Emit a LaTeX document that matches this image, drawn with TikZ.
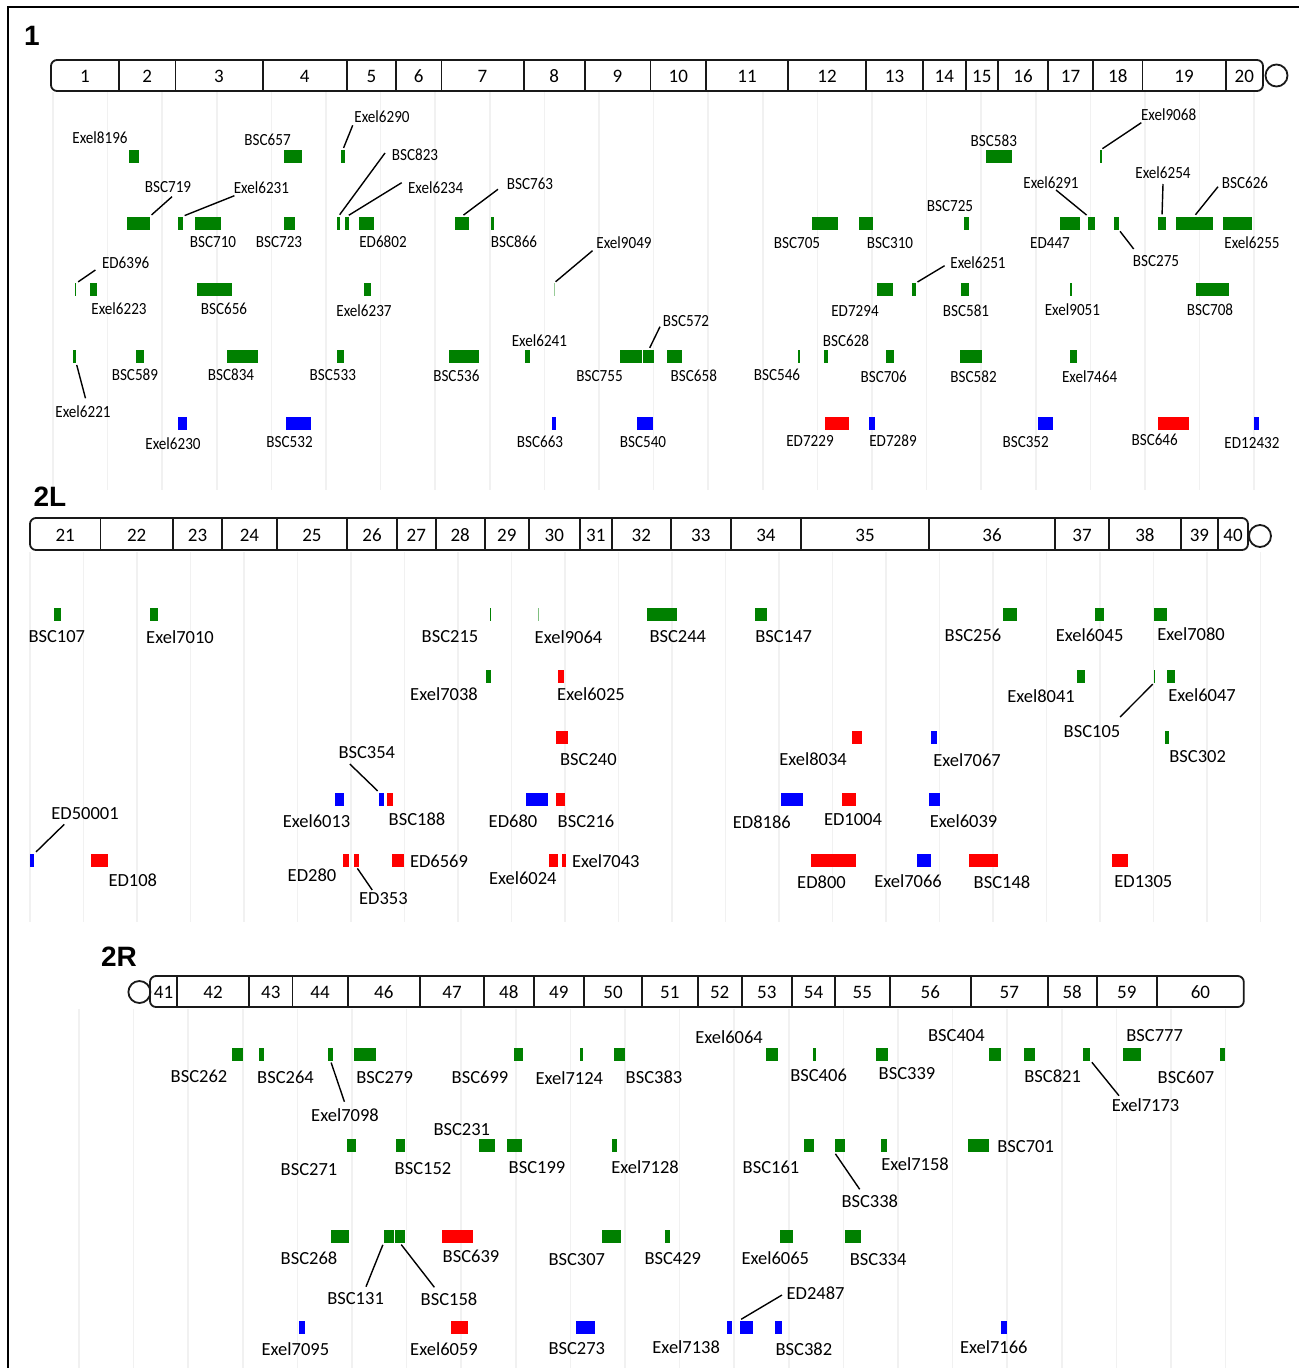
\documentclass[tikz,border=0pt]{standalone}
\usepackage{fontspec}
\setmainfont{Carlito}
\newfontfamily\narrowfont[FakeStretch=0.89]{Carlito}
\newfontfamily\titlefont{Liberation Sans}
\definecolor{blkgreen}{RGB}{0,128,0}
\definecolor{blkred}{RGB}{255,0,0}
\definecolor{blkblue}{RGB}{0,0,255}
\definecolor{gridgray}{RGB}{241,241,241}

\tikzset{
  blk/.style={rectangle, draw=none, inner sep=0pt, minimum height=13},
  lab/.style={inner sep=0pt, font=\labfont},
  num/.style={inner sep=0pt, font=\fontsize{19}{22}\selectfont},
  bar/.style={line width=1.8pt, draw=black!90},
  cen/.style={circle, draw=black!90, line width=1.8pt, minimum size=22, inner sep=0pt},
  grid line/.style={gridgray, line width=1.6pt},
  lead/.style={line width=1.4pt, shorten >=2pt},
  chrom/.style={font=\titlefont\bfseries\fontsize{28}{32}\selectfont, inner sep=0pt},
}

\newcommand{\labfont}{\narrowfont\fontsize{17}{20}\selectfont}
\newcommand{\delblock}[5]{\node[blk, fill=#2, minimum width={#4-#3}] (#1) at ({(#3+#4)/2},#5) {};}
\newcommand{\dellabel}[3]{\node[lab] (#1t) at (#2,#3) {#1};}
\newcommand{\delcallout}[3]{\coordinate (#1c) at (#2); \path[lead] (#1c) edge (#1.#3);}

\begin{document}
\begin{tikzpicture}[x=1pt, y=-1pt]
  \useasboundingbox (0,0) rectangle (1299,1368);
  \draw[line width=2pt] (8,1368) -- (8,7) -- (1299,7);

  % grid lines
  \foreach \k in {0,...,22} \draw[grid line] ({53+54.6*\k},92) -- ({53+54.6*\k},490);
  \foreach \k in {0,...,23} \draw[grid line] ({30+53.5*\k},552) -- ({30+53.5*\k},922);
  \foreach \k in {0,...,21} \draw[grid line] ({79+54.6*\k},1009) -- ({79+54.6*\k},1368);

  % ---------- chromosome 1 ----------
  \node[chrom] (chr1) at (32,35.5) {1};
  \draw[bar, rounded corners=6] (51,60) rectangle (1263,91);
  \foreach \x in {119, 175.5, 262.6, 347, 396, 441.5, 523.6, 584.6, 650.5, 706, 788, 866,
      923, 965.6, 998, 1048, 1093, 1142.5, 1225.7}
    \draw[bar] (\x,60) -- (\x,91);
  \foreach \a/\b/\n in {51/119/1, 119/175.5/2, 175.5/262.6/3, 262.6/347/4, 347/396/5,
      396/441.5/6, 441.5/523.6/7, 523.6/584.6/8, 584.6/650.5/9, 650.5/706/10, 706/788/11,
      788/866/12, 866/923/13, 923/965.6/14, 965.6/998/15, 998/1048/16, 1048/1093/17,
      1093/1142.5/18, 1142.5/1225.7/19, 1225.7/1263/20}
    \node[num] (band\n) at ({(\a+\b)/2},76) {\n};
  \node[cen] (cen1) at (1276.5,75.5) {};

  \delblock{Exel8196}{blkgreen}{128.6}{138.6}{156.5}
  \delblock{BSC657}{blkgreen}{284}{301.7}{156.5}
  \delblock{Exel6290}{blkgreen}{341}{344.7}{156.5}
  \delblock{BSC583}{blkgreen}{985.8}{1011.8}{156.5}
  \delblock{Exel9068}{blkgreen}{1100}{1101.5}{156.5}

  \delblock{BSC719}{blkgreen}{126.6}{149.8}{223}
  \delblock{Exel6231}{blkgreen}{177.6}{182.6}{223}
  \delblock{BSC710}{blkgreen}{195}{221}{223}
  \delblock{BSC723}{blkgreen}{284}{295.4}{223}
  \delblock{BSC823}{blkgreen}{337}{340}{223}
  \delblock{Exel6234}{blkgreen}{344.8}{349.4}{223}
  \delblock{ED6802}{blkgreen}{358.5}{374.3}{223}
  \delblock{BSC763}{blkgreen}{454.8}{468.9}{223}
  \delblock{BSC866}{blkgreen}{490.5}{493.8}{223}
  \delblock{BSC705}{blkgreen}{812.3}{837.5}{223}
  \delblock{BSC310}{blkgreen}{859}{872.8}{223}
  \delblock{BSC725}{blkgreen}{963.5}{968.6}{223}
  \delblock{ED447}{blkgreen}{1059.7}{1079.5}{223}
  \delblock{Exel6291}{blkgreen}{1088.3}{1095}{223}
  \delblock{BSC275}{blkgreen}{1114}{1118.6}{223}
  \delblock{Exel6254}{blkgreen}{1158}{1166}{223}
  \delblock{BSC626}{blkgreen}{1175.7}{1212.7}{223}
  \delblock{Exel6255}{blkgreen}{1223}{1252}{223}

  \delblock{ED6396}{blkgreen}{74.7}{76.3}{289.7}
  \delblock{Exel6223}{blkgreen}{89.6}{97}{289.7}
  \delblock{BSC656}{blkgreen}{196.7}{232.4}{289.7}
  \delblock{Exel6237}{blkgreen}{363.5}{370.5}{289.7}
  \delblock{Exel9049}{blkgreen!40}{553.5}{554.7}{289.7}
  \delblock{ED7294}{blkgreen}{877.4}{892.5}{289.7}
  \delblock{Exel6251}{blkgreen}{911.8}{915.6}{289.7}
  \delblock{BSC581}{blkgreen}{961}{969}{289.7}
  \delblock{Exel9051}{blkgreen}{1070.3}{1072.4}{289.7}
  \delblock{BSC708}{blkgreen}{1195.9}{1228.7}{289.7}

  \delblock{Exel6221}{blkgreen}{73}{76}{356.3}
  \delblock{BSC589}{blkgreen}{135.7}{144.4}{356.3}
  \delblock{BSC834}{blkgreen}{227.4}{258}{356.3}
  \delblock{BSC533}{blkgreen}{336.5}{344.4}{356.3}
  \delblock{BSC536}{blkgreen}{449}{479.3}{356.3}
  \delblock{Exel6241}{blkgreen}{524.5}{530}{356.3}
  \delblock{BSC755}{blkgreen}{619.5}{641.5}{356.3}
  \delblock{BSC572}{blkgreen}{643.4}{654.3}{356.3}
  \delblock{BSC658}{blkgreen}{667}{682}{356.3}
  \delblock{BSC546}{blkgreen}{798.4}{799.7}{356.3}
  \delblock{BSC628}{blkgreen}{824}{827.8}{356.3}
  \delblock{BSC706}{blkgreen}{885.8}{894.2}{356.3}
  \delblock{BSC582}{blkgreen}{959.7}{982.4}{356.3}
  \delblock{Exel7464}{blkgreen}{1069.8}{1077.4}{356.3}

  \delblock{Exel6230}{blkblue}{177.6}{187.1}{423}
  \delblock{BSC532}{blkblue}{286.3}{310.8}{423}
  \delblock{BSC663}{blkblue}{552.3}{556}{423}
  \delblock{BSC540}{blkblue}{637}{653}{423}
  \delblock{ED7229}{blkred}{825.3}{848.8}{423}
  \delblock{ED7289}{blkblue}{869}{874.5}{423}
  \delblock{BSC352}{blkblue}{1038.3}{1052.6}{423}
  \delblock{BSC646}{blkred}{1158}{1188.7}{423}
  \delblock{ED12432}{blkblue}{1254.3}{1259.3}{423}

  \dellabel{Exel8196}{100}{138}
  \dellabel{BSC657}{267.6}{140}
  \dellabel{Exel6290}{382}{116.7}
  \dellabel{BSC719}{168}{186.7}
  \dellabel{Exel6231}{261.4}{187.7}
  \dellabel{BSC710}{213}{242}
  \dellabel{BSC723}{279}{242}
  \dellabel{BSC823}{415}{155}
  \dellabel{Exel6234}{435.7}{187.7}
  \dellabel{ED6802}{383}{242}
  \dellabel{BSC763}{530}{184.3}
  \dellabel{BSC866}{514}{242}
  \dellabel{BSC583}{993.8}{141}
  \dellabel{Exel9068}{1168.6}{115}
  \dellabel{BSC705}{797}{243}
  \dellabel{BSC310}{890}{243}
  \dellabel{BSC725}{950}{206}
  \dellabel{ED447}{1050}{243}
  \dellabel{Exel6291}{1051}{182.7}
  \dellabel{BSC275}{1156}{260.7}
  \dellabel{Exel6254}{1163}{172.7}
  \dellabel{BSC626}{1245}{182.7}
  \dellabel{Exel6255}{1252}{242.7}
  \dellabel{ED6396}{125.7}{263.3}
  \dellabel{Exel6223}{119}{309}
  \dellabel{BSC656}{224}{309}
  \dellabel{Exel6237}{364}{310.7}
  \dellabel{Exel9049}{624}{243}
  \dellabel{ED7294}{855}{310.7}
  \dellabel{Exel6251}{978}{262.3}
  \dellabel{BSC581}{966}{311}
  \dellabel{Exel9051}{1072.4}{310}
  \dellabel{BSC708}{1210}{310}
  \dellabel{Exel6221}{83}{412}
  \dellabel{BSC589}{134.9}{374.3}
  \dellabel{BSC834}{231}{375}
  \dellabel{BSC533}{332.8}{375}
  \dellabel{BSC536}{456.4}{376}
  \dellabel{Exel6241}{539.4}{340.3}
  \dellabel{BSC755}{599.6}{376}
  \dellabel{BSC572}{686}{320.7}
  \dellabel{BSC658}{693.8}{376}
  \dellabel{BSC546}{777}{375}
  \dellabel{BSC628}{846}{340.7}
  \dellabel{BSC706}{883.7}{377}
  \dellabel{BSC582}{973.6}{377}
  \dellabel{Exel7464}{1089.6}{377}
  \dellabel{Exel6230}{173}{443.3}
  \dellabel{BSC532}{289.6}{442}
  \dellabel{BSC663}{540}{442}
  \dellabel{BSC540}{643}{442}
  \dellabel{ED7229}{810}{441}
  \dellabel{ED7289}{893}{441}
  \dellabel{BSC352}{1025.7}{442}
  \dellabel{BSC646}{1154.7}{440}
  \dellabel{ED12432}{1252}{443}

  \delcallout{Exel6290}{352.7,125.3}{north}
  \delcallout{BSC719}{172,196.7}{north east}
  \delcallout{Exel6231}{234.4,195.7}{north east}
  \delcallout{BSC823}{385,153}{north}
  \delcallout{Exel6234}{401.7,182.7}{north}
  \delcallout{BSC763}{498,189.3}{north}
  \delcallout{Exel9068}{1141.3,122.7}{north}
  \delcallout{Exel6291}{1056,190}{north west}
  \delcallout{BSC275}{1133.7,249}{south east}
  \delcallout{Exel6254}{1163,184}{north}
  \delcallout{BSC626}{1218,186.7}{north}
  \delcallout{ED6396}{95.4,270}{north east}
  \delcallout{Exel9049}{592.5,250.7}{north}
  \delcallout{Exel6251}{944.6,265.7}{north east}
  \delcallout{Exel6221}{85.5,398.3}{south east}
  \delcallout{BSC572}{660,326.7}{north}

  % ---------- chromosome 2L ----------
  \renewcommand{\labfont}{\fontsize{18.5}{22}\selectfont}
  \node[chrom] (chr2L) at (50,497) {2L};
  \draw[bar, rounded corners=6] (30,518) rectangle (1248,550);
  \foreach \x in {100.4, 173, 222, 276.8, 347, 397, 435.7, 484.6, 529, 579.7, 612, 670.7,
      730.8, 801, 929, 1055, 1109, 1180.8, 1218}
    \draw[bar] (\x,518) -- (\x,550);
  \foreach \a/\b/\n in {30/100.4/21, 100.4/173/22, 173/222/23, 222/276.8/24, 276.8/347/25,
      347/397/26, 397/435.7/27, 435.7/484.6/28, 484.6/529/29, 529/579.7/30, 579.7/612/31,
      612/670.7/32, 670.7/730.8/33, 730.8/801/34, 801/929/35, 929/1055/36, 1055/1109/37,
      1109/1180.8/38, 1180.8/1218/39, 1218/1248/40}
    \node[num] (band\n) at ({(\a+\b)/2},535) {\n};
  \node[cen] (cen2L) at (1260,536) {};

  \delblock{BSC107}{blkgreen}{54}{61.4}{614}
  \delblock{Exel7010}{blkgreen}{150}{157.7}{614}
  \delblock{BSC215}{blkgreen}{489.6}{491.3}{614}
  \delblock{Exel9064}{blkgreen!50}{538}{539.2}{614}
  \delblock{BSC244}{blkgreen}{647}{677}{614}
  \delblock{BSC147}{blkgreen}{754.7}{766.5}{614}
  \delblock{BSC256}{blkgreen}{1003.4}{1017}{614}
  \delblock{Exel6045}{blkgreen}{1095}{1104}{614}
  \delblock{Exel7080}{blkgreen}{1153.9}{1167}{614}

  \delblock{Exel7038}{blkgreen}{485.5}{490.5}{676}
  \delblock{Exel6025}{blkred}{558}{564.3}{676}
  \delblock{Exel8041}{blkgreen}{1077}{1085.4}{676}
  \delblock{BSC105}{blkgreen}{1153.5}{1155}{676}
  \delblock{Exel6047}{blkgreen}{1167}{1174.5}{676}

  \delblock{BSC240}{blkred}{556}{567.6}{737}
  \delblock{Exel8034}{blkred}{852.2}{861.8}{737}
  \delblock{Exel7067}{blkblue}{931}{936.6}{737}
  \delblock{BSC302}{blkgreen}{1165.2}{1169.4}{737}

  \delblock{Exel6013}{blkblue}{335.3}{343.6}{799}
  \delblock{BSC354}{blkblue}{379.3}{383.8}{799}
  \delblock{BSC188}{blkred}{386.7}{393.4}{799}
  \delblock{ED680}{blkblue}{526}{547.7}{799}
  \delblock{BSC216}{blkred}{556}{565}{799}
  \delblock{ED8186}{blkblue}{780.8}{802.6}{799}
  \delblock{ED1004}{blkred}{841.7}{856.4}{799}
  \delblock{Exel6039}{blkblue}{929}{940}{799}

  \delblock{ED50001}{blkblue}{30.3}{34.4}{860}
  \delblock{ED108}{blkred}{90.9}{107.5}{860}
  \delblock{ED280}{blkred}{342.7}{349.4}{860}
  \delblock{ED353}{blkred}{354}{358.5}{860}
  \delblock{ED6569}{blkred}{392}{403.7}{860}
  \delblock{Exel6024}{blkred}{548.5}{558}{860}
  \delblock{Exel7043}{blkred}{562.2}{566}{860}
  \delblock{ED800}{blkred}{811}{856.4}{860}
  \delblock{Exel7066}{blkblue}{917}{931}{860}
  \delblock{BSC148}{blkred}{969}{998}{860}
  \delblock{ED1305}{blkred}{1111.8}{1128.2}{860}

  \dellabel{BSC107}{56.8}{636.7}
  \dellabel{Exel7010}{180}{637}
  \dellabel{BSC215}{450}{637}
  \dellabel{Exel9064}{568.5}{637}
  \dellabel{BSC244}{677.8}{636.7}
  \dellabel{BSC147}{783.7}{637}
  \dellabel{BSC256}{973}{635}
  \dellabel{Exel6045}{1089.6}{635}
  \dellabel{Exel7080}{1191}{634}
  \dellabel{Exel7038}{444}{694}
  \dellabel{Exel6025}{591}{694}
  \dellabel{Exel8041}{1041}{696}
  \dellabel{BSC105}{1092}{731.5}
  \dellabel{Exel6047}{1202}{695}
  \dellabel{BSC240}{588.4}{759.3}
  \dellabel{Exel8034}{813}{759.3}
  \dellabel{Exel7067}{967}{760}
  \dellabel{BSC302}{1197.6}{757}
  \dellabel{BSC354}{366.8}{752.3}
  \dellabel{Exel6013}{316.6}{821}
  \dellabel{BSC188}{417}{819}
  \dellabel{ED680}{513}{821}
  \dellabel{BSC216}{586}{821}
  \dellabel{ED8186}{761.8}{822}
  \dellabel{ED1004}{853}{819.3}
  \dellabel{Exel6039}{963.5}{821}
  \dellabel{ED50001}{85}{814}
  \dellabel{ED108}{132.8}{880}
  \dellabel{ED280}{312}{875}
  \dellabel{ED353}{383.4}{899}
  \dellabel{ED6569}{439}{861.7}
  \dellabel{Exel6024}{522.8}{878.3}
  \dellabel{Exel7043}{605.8}{860.7}
  \dellabel{ED800}{821.5}{882.3}
  \dellabel{Exel7066}{908}{880.7}
  \dellabel{BSC148}{1002}{882}
  \dellabel{ED1305}{1143.4}{882}

  \delcallout{BSC105}{1120,717}{south}
  \delcallout{BSC354}{349.8,764}{north west}
  \delcallout{ED50001}{64.3,824.3}{north east}
  \delcallout{ED353}{372.2,890}{south}

  % ---------- chromosome 2R ----------
  \node[chrom] (chr2R) at (119,957) {2R};
  \node[cen] (cen2R) at (139.4,992) {};
  \draw[bar, rounded corners=6] (150,976) rectangle (1243.8,1007);
  \foreach \x in {177, 249, 292.5, 347.7, 420, 484, 533.6, 584, 642, 697.6, 741.7, 792,
      835, 889.6, 971, 1047.6, 1096.7, 1157}
    \draw[bar] (\x,976) -- (\x,1007);
  \foreach \a/\b/\n in {150/177/41, 177/249/42, 249/292.5/43, 292.5/347.7/44, 347.7/420/46,
      420/484/47, 484/533.6/48, 533.6/584/49, 584/642/50, 642/697.6/51, 697.6/741.7/52,
      741.7/792/53, 792/835/54, 835/889.6/55, 889.6/971/56, 971/1047.6/57, 1047.6/1096.7/58,
      1096.7/1157/59, 1157/1243.8/60}
    \node[num] (band\n) at ({(\a+\b)/2},992) {\n};

  \delblock{BSC262}{blkgreen}{232.4}{243}{1054}
  \delblock{BSC264}{blkgreen}{259.3}{264.3}{1054}
  \delblock{Exel7098}{blkgreen}{328.2}{332.8}{1054}
  \delblock{BSC279}{blkgreen}{354.4}{376}{1054}
  \delblock{BSC699}{blkgreen}{514}{522.8}{1054}
  \delblock{Exel7124}{blkgreen}{579.7}{583}{1054}
  \delblock{BSC383}{blkgreen}{614}{624.5}{1054}
  \delblock{Exel6064}{blkgreen}{766}{778}{1054}
  \delblock{BSC406}{blkgreen}{812.7}{815.6}{1054}
  \delblock{BSC339}{blkgreen}{876}{888}{1054}
  \delblock{BSC404}{blkgreen}{989}{1001}{1054}
  \delblock{BSC821}{blkgreen}{1023.6}{1034.5}{1054}
  \delblock{Exel7173}{blkgreen}{1082.9}{1090.4}{1054}
  \delblock{BSC777}{blkgreen}{1123.2}{1141.3}{1054}
  \delblock{BSC607}{blkgreen}{1220.3}{1224.5}{1054}

  \delblock{BSC271}{blkgreen}{346.5}{355.6}{1145.5}
  \delblock{BSC152}{blkgreen}{395.9}{404.6}{1145.5}
  \delblock{BSC231}{blkgreen}{479.3}{494.6}{1145.5}
  \delblock{BSC199}{blkgreen}{507}{522}{1145.5}
  \delblock{Exel7128}{blkgreen}{612.4}{616.6}{1145.5}
  \delblock{BSC161}{blkgreen}{803.9}{813.5}{1145.5}
  \delblock{BSC338}{blkgreen}{834.5}{844.6}{1145.5}
  \delblock{Exel7158}{blkgreen}{881}{887}{1145.5}
  \delblock{BSC701}{blkgreen}{967.7}{988.7}{1145.5}

  \delblock{BSC268}{blkgreen}{331}{349.4}{1236.3}
  \delblock{BSC131}{blkgreen}{383.8}{393.8}{1236.3}
  \delblock{BSC158}{blkgreen}{395.4}{404.6}{1236.3}
  \delblock{BSC639}{blkred}{442}{473.4}{1236.3}
  \delblock{BSC307}{blkgreen}{602}{621}{1236.3}
  \delblock{BSC429}{blkgreen}{665.2}{670.3}{1236.3}
  \delblock{Exel6065}{blkgreen}{779.5}{792.5}{1236.3}
  \delblock{BSC334}{blkgreen}{845}{861.4}{1236.3}

  \delblock{Exel7095}{blkblue}{299.2}{305.4}{1327}
  \delblock{Exel6059}{blkred}{451}{468}{1327}
  \delblock{BSC273}{blkblue}{576.3}{595.4}{1327}
  \delblock{Exel7138}{blkblue}{727.4}{732.4}{1327}
  \delblock{ED2487}{blkblue}{739.6}{753.4}{1327}
  \delblock{BSC382}{blkblue}{775.3}{781.6}{1327}
  \delblock{Exel7166}{blkblue}{1000.5}{1007.2}{1327}

  \dellabel{BSC262}{199}{1076.7}
  \dellabel{BSC264}{285.5}{1077}
  \dellabel{Exel7098}{345}{1115}
  \dellabel{BSC279}{384.6}{1078}
  \dellabel{BSC699}{480}{1077}
  \dellabel{Exel7124}{569.3}{1078}
  \dellabel{BSC383}{654}{1077}
  \dellabel{Exel6064}{729}{1037.3}
  \dellabel{BSC406}{818.6}{1075.7}
  \dellabel{BSC339}{907}{1074}
  \dellabel{BSC404}{956.4}{1036}
  \dellabel{BSC821}{1052.6}{1076.7}
  \dellabel{Exel7173}{1145.5}{1105}
  \dellabel{BSC777}{1154.7}{1036}
  \dellabel{BSC607}{1186}{1077}
  \dellabel{BSC271}{309}{1169.3}
  \dellabel{BSC152}{423}{1169}
  \dellabel{BSC231}{461.8}{1130}
  \dellabel{BSC199}{537}{1167.3}
  \dellabel{Exel7128}{645}{1167}
  \dellabel{BSC161}{771}{1167.7}
  \dellabel{BSC338}{869.8}{1201.7}
  \dellabel{Exel7158}{915}{1164.3}
  \dellabel{BSC701}{1025.7}{1146.7}
  \dellabel{BSC268}{309}{1258.3}
  \dellabel{BSC131}{355.6}{1299}
  \dellabel{BSC158}{449}{1299}
  \dellabel{BSC639}{471}{1256.7}
  \dellabel{BSC307}{576.8}{1259.3}
  \dellabel{BSC429}{672.8}{1258.3}
  \dellabel{Exel6065}{775.3}{1258}
  \dellabel{BSC334}{878.2}{1260}
  \dellabel{Exel7095}{295.4}{1349.3}
  \dellabel{Exel6059}{444}{1349}
  \dellabel{BSC273}{576.8}{1349}
  \dellabel{Exel7138}{686.2}{1346.7}
  \dellabel{ED2487}{815.6}{1293.3}
  \dellabel{BSC382}{803.9}{1349}
  \dellabel{Exel7166}{993.8}{1347.3}

  \delcallout{Exel7098}{344.4,1101.7}{south}
  \delcallout{Exel7173}{1119,1095.7}{south east}
  \delcallout{BSC338}{859.7,1189.3}{south west}
  \delcallout{BSC131}{366,1286.7}{south west}
  \delcallout{BSC158}{434.4,1287.3}{south}
  \delcallout{ED2487}{782,1295}{north west}
\end{tikzpicture}
\end{document}
